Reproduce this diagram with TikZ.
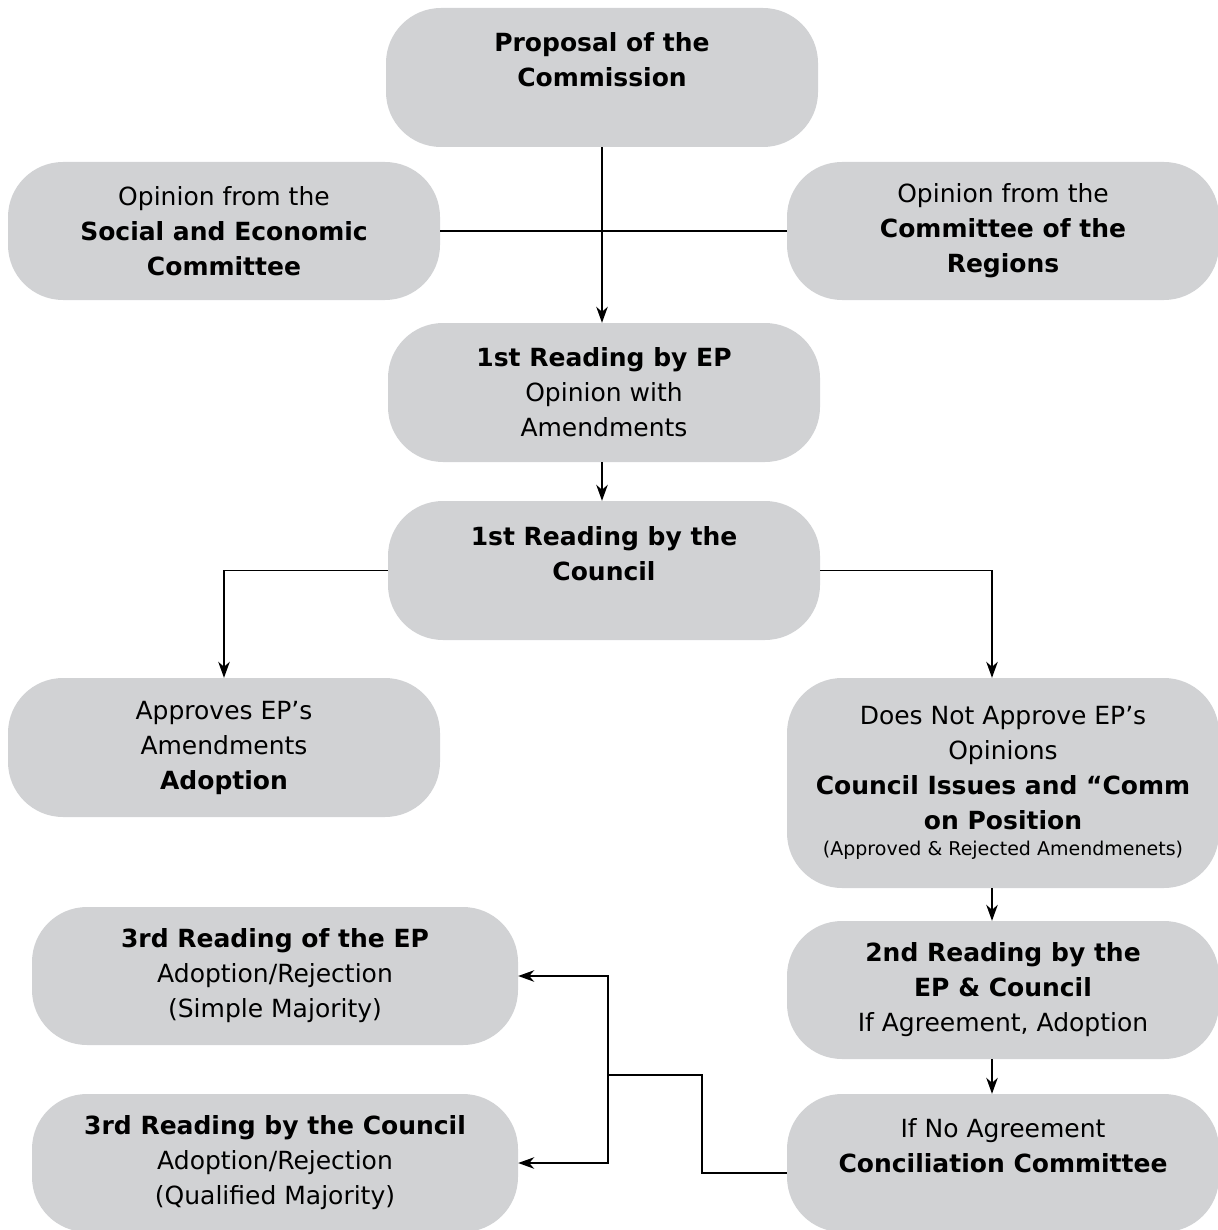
\documentclass[tikz,border=0pt]{standalone}
\usepackage{fontspec}
\setmainfont{DejaVu Sans}
\usetikzlibrary{arrows.meta}
\definecolor{boxgray}{RGB}{209,210,212}
\begin{document}
\begin{tikzpicture}[x=1pt,y=-1pt,
 box/.style={fill=boxgray, rounded corners=55pt, inner sep=0pt, align=center,
   minimum width=432pt, minimum height=138pt, font=\fontsize{25}{35}\selectfont},
 widebox/.style={box, minimum width=486pt},
 conn/.style={line width=1.2pt, black},
 arr/.style={conn, -{Stealth[length=16pt,width=11.5pt,inset=5pt]}}]
\useasboundingbox (0,0) rectangle (1217,1230);

\node[box, minimum height=139pt] (prop) at (602,77.5) {\textbf{Proposal of the}\\\textbf{Commission}\\\mbox{}};
\node[box] (sec) at (224,231) {Opinion from the\\\textbf{Social and Economic}\\\textbf{Committee}};
\node[box] (cor) at (1003,231) {Opinion from the\\\textbf{Committee of the}\\\textbf{Regions}};
\node[box, minimum height=139pt] (ep1) at (604,392.5) {\textbf{1st Reading by EP}\\Opinion with\\Amendments};
\node[box, minimum height=139pt] (c1) at (604,570.5) {\textbf{1st Reading by the}\\\textbf{Council}\\\mbox{}};
\node[box, minimum height=139pt] (appr) at (224,747.5) {Approves EP’s\\Amendments\\\textbf{Adoption}};
\node[box, minimum height=210pt] (dna) at (1003,783) {Does Not Approve EP’s\\Opinions\\\textbf{Council Issues and “Comm}\\\textbf{on Position}\\[-9pt]{\fontsize{19}{25}\selectfont (Approved \& Rejected Amendmenets)}};
\node[widebox] (ep3) at (275,976) {\textbf{3rd Reading of the EP}\\Adoption/Rejection\\(Simple Majority)};
\node[box] (r2) at (1003,990) {\textbf{2nd Reading by the}\\\textbf{EP \& Council}\\If Agreement, Adoption};
\node[widebox] (c3) at (275,1163) {\textbf{3rd Reading by the Council}\\Adoption/Rejection\\(Qualified Majority)};
\node[box] (ifno) at (1003,1163) {If No Agreement\\\textbf{Conciliation Committee}\\\mbox{}};

\draw[arr] (prop.south) -- (ep1.north -| prop.south);
\draw[conn] (sec.east) -- (cor.west);
\draw[arr] (ep1.south -| prop.south) -- (c1.north -| prop.south);
\draw[arr] (c1.west) -| (appr.north);
\draw[arr] (c1.east) -| ([xshift=-11pt]dna.north);
\draw[arr] ([xshift=-11pt]dna.south) -- ([xshift=-11pt]r2.north);
\draw[arr] ([xshift=-11pt]r2.south) -- ([xshift=-11pt]ifno.north);
\coordinate (k) at (702,1173);
\coordinate (j) at (608,1075);
\draw[conn] (ifno.west |- k) -- (k) |- (j);
\draw[arr] (j) |- (ep3.east);
\draw[arr] (j) |- (c3.east);
\end{tikzpicture}
\end{document}
